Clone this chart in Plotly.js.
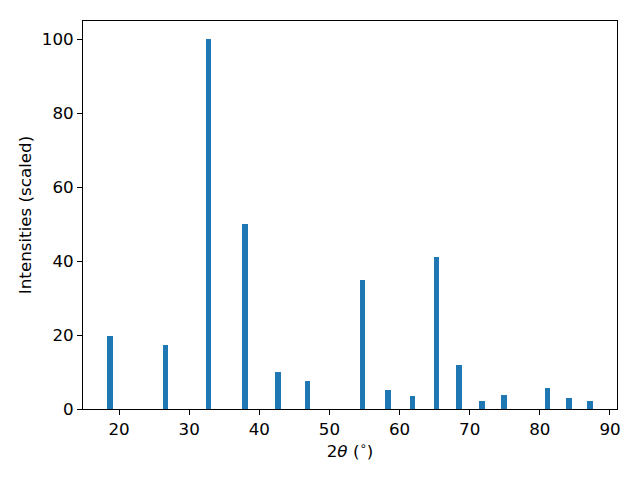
<!DOCTYPE html>
<html>
<head>
<meta charset="utf-8">
<script src="https://cdn.plot.ly/plotly-3.0.1.min.js"></script>
<style>html,body{margin:0;padding:0;background:#fff}#chart{width:640px;height:480px}</style>
</head>
<body>
<div id="chart"></div>
<script>
var twoTheta = [18.72, 26.62, 32.73, 37.93, 42.62, 46.89, 54.71, 58.34, 61.83, 65.24, 68.51, 71.71, 74.91, 81.10, 84.16, 87.15];
var intensity = [19.8, 17.4, 100, 50, 10, 7.6, 35, 5.2, 3.5, 41.2, 12, 2.2, 3.8, 5.7, 3.0, 2.2];
var xTicks = [20, 30, 40, 50, 60, 70, 80, 90];
var yTicks = [0, 20, 40, 60, 80, 100];

var trace = {
  type: 'bar',
  x: twoTheta,
  y: intensity,
  width: 0.8,
  marker: {color: '#1f77b4', line: {width: 0}}
};

var font = {family: 'DejaVu Sans', size: 16.7, color: '#000'};
var layout = {
  width: 640, height: 480,
  margin: {l: 83, r: 23, t: 21, b: 71},
  paper_bgcolor: '#fff', plot_bgcolor: '#fff',
  showlegend: false,
  font: font,
  bargap: 0,
  xaxis: {
    range: [14.86, 91.0],
    tickvals: xTicks,
    ticktext: xTicks.map(String),
    ticks: 'outside', ticklen: 5, tickwidth: 1, tickcolor: '#000',
    showgrid: false, zeroline: false,
    showline: true, linecolor: '#000', linewidth: 1, mirror: true,
    tickfont: font,
    title: {text: '2<i>θ</i> (<sup>∘</sup>)', font: font, standoff: 6}
  },
  yaxis: {
    range: [0, 105],
    tickvals: yTicks,
    ticktext: yTicks.map(String),
    ticks: 'outside', ticklen: 5, tickwidth: 1, tickcolor: '#000',
    showgrid: false, zeroline: false,
    showline: true, linecolor: '#000', linewidth: 1, mirror: true,
    tickfont: font,
    title: {text: 'Intensities (scaled)', font: font, standoff: 5}
  }
};

Plotly.newPlot('chart', [trace], layout, {displayModeBar: false, staticPlot: true});
</script>
</body>
</html>
